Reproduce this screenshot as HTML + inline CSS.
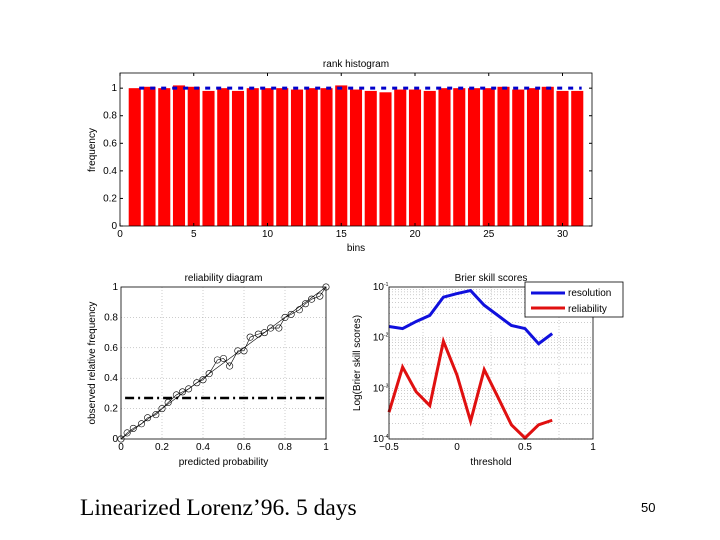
<!DOCTYPE html>
<html><head><meta charset="utf-8"><style>
body{margin:0;background:#fff;width:720px;height:540px;overflow:hidden}
svg{display:block}
text{font-family:"Liberation Sans",sans-serif;fill:#000}
</style></head><body>
<svg id="s" width="720" height="540">
<text x="80" y="515" style="font-family:'Liberation Serif',serif" font-size="23.5">Linearized Lorenz’96. 5 days</text>
<text x="641" y="512" font-size="13">50</text>
</svg>
<script>
const histBins=[1,2,3,4,5,6,7,8,9,10,11,12,13,14,15,16,17,18,19,20,21,22,23,24,25,26,27,28,29,30,31];
const histFreq=[1.0,1.01,1.0,1.02,1.01,0.98,1.0,0.98,1.0,1.0,1.0,0.99,1.0,1.0,1.02,0.99,0.98,0.97,0.99,0.99,0.98,1.0,1.0,1.0,1.0,1.01,0.99,1.0,1.01,0.98,0.98];
const histXTicks=[0,5,10,15,20,25,30];
const histYTicks=[0,0.2,0.4,0.6,0.8,1];
const relPred=[0,0.03,0.06,0.1,0.13,0.17,0.2,0.23,0.27,0.3,0.33,0.37,0.4,0.43,0.47,0.5,0.53,0.57,0.6,0.63,0.67,0.7,0.73,0.77,0.8,0.83,0.87,0.9,0.93,0.97,1];
const relObs=[0,0.04,0.07,0.1,0.14,0.16,0.2,0.24,0.29,0.31,0.33,0.37,0.39,0.43,0.52,0.53,0.48,0.58,0.58,0.67,0.69,0.7,0.73,0.73,0.8,0.82,0.85,0.89,0.92,0.94,1];
const climFreq=0.27;
const relTicks=[0,0.2,0.4,0.6,0.8,1];
const bssThresh=[-0.5,-0.4,-0.3,-0.2,-0.1,0,0.1,0.2,0.3,0.4,0.5,0.6,0.7];
const bssResLog=[-1.78,-1.82,-1.68,-1.56,-1.20,-1.13,-1.07,-1.36,-1.56,-1.76,-1.82,-2.12,-1.92];
const bssRelLog=[-3.47,-2.58,-3.07,-3.34,-2.07,-2.74,-3.65,-2.63,-3.17,-3.72,-3.98,-3.72,-3.63];
const bssXTicks=[-0.5,0,0.5,1];
const bssYDecades=[-4,-3,-2,-1];

const S=document.getElementById('s');const NS='http://www.w3.org/2000/svg';
function mk(t,a,name,p){const e=document.createElementNS(NS,t);for(const k in a)e.setAttribute(k,a[k]);


(p||S).appendChild(e);return e;}
function txt(x,y,s,name,opt){const e=mk('text',Object.assign({x:x,y:y,'font-size':10},opt||{}),name);e.textContent=s;return e;}
function lin(d0,d1,r0,r1){return v=>r0+(v-d0)/(d1-d0)*(r1-r0);}

// Histogram
{const L=120,R=592,T=73,B=226;const x=lin(0,32,L,R),y=lin(0,1.11,B,T);
histBins.forEach((b,i)=>{mk('rect',{x:x(b-0.41),y:y(histFreq[i]),width:x(0.82)-x(0),height:B-y(histFreq[i]),fill:'#ff0000'},'hist-bar');});
mk('line',{x1:x(1.3),x2:x(31.3),y1:y(1),y2:y(1),stroke:'#0000cc','stroke-width':3,'stroke-dasharray':'5,6'},'hist-uniform-line');
mk('rect',{x:L,y:T,width:R-L,height:B-T,fill:'none',stroke:'#000','stroke-width':0.8},'hist-axes-box');
histXTicks.forEach(t=>{mk('line',{x1:x(t),x2:x(t),y1:B,y2:B-3,stroke:'#000'},'hist-x-tick');mk('line',{x1:x(t),x2:x(t),y1:T,y2:T+3,stroke:'#000'},'hist-x-tick');txt(x(t),B+11,String(t),'hist-x-tick-label',{'text-anchor':'middle'});});
histYTicks.forEach(t=>{mk('line',{x1:L,x2:L+3,y1:y(t),y2:y(t),stroke:'#000'},'hist-y-tick');mk('line',{x1:R,x2:R-3,y1:y(t),y2:y(t),stroke:'#000'},'hist-y-tick');txt(L-3,y(t)+3,String(t),'hist-y-tick-label',{'text-anchor':'end'});});
txt((L+R)/2,67,'rank histogram','hist-title',{'text-anchor':'middle'});
txt((L+R)/2,251,'bins','hist-x-title',{'text-anchor':'middle'});
txt(95,150,'frequency','hist-y-title',{'text-anchor':'middle',transform:'rotate(-90 95 150)'});}

// Reliability
{const L=121,R=326,T=287,B=439;const x=lin(0,1,L,R),y=lin(0,1,B,T);
relTicks.forEach(t=>{if(t>0&&t<1){mk('line',{x1:x(t),x2:x(t),y1:T,y2:B,stroke:'#999','stroke-width':0.5,'stroke-dasharray':'1,2'},'rel-grid');mk('line',{x1:L,x2:R,y1:y(t),y2:y(t),stroke:'#999','stroke-width':0.5,'stroke-dasharray':'1,2'},'rel-grid');}});
mk('line',{x1:x(0.02),x2:x(1),y1:y(climFreq),y2:y(climFreq),stroke:'#000','stroke-width':2.5,'stroke-dasharray':'9,4,2,4'},'rel-climatology-line');
mk('line',{x1:x(0),y1:y(0),x2:x(1),y2:y(1),stroke:'#000','stroke-width':0.6},'rel-perfect-line');
mk('polyline',{points:relPred.map((p,i)=>x(p)+','+y(relObs[i])).join(' '),fill:'none',stroke:'#000','stroke-width':0.6},'rel-curve');
relPred.forEach((p,i)=>mk('circle',{cx:x(p),cy:y(relObs[i]),r:3.2,fill:'none',stroke:'#000','stroke-width':0.6},'rel-point'));
mk('rect',{x:L,y:T,width:R-L,height:B-T,fill:'none',stroke:'#000','stroke-width':0.8},'rel-axes-box');
relTicks.forEach(t=>{txt(x(t),B+11,String(t),'rel-x-tick-label',{'text-anchor':'middle'});txt(L-3,y(t)+3,String(t),'rel-y-tick-label',{'text-anchor':'end'});});
txt((L+R)/2,281,'reliability diagram','rel-title',{'text-anchor':'middle'});
txt((L+R)/2,465,'predicted probability','rel-x-title',{'text-anchor':'middle'});
txt(95,363,'observed relative frequency','rel-y-title',{'text-anchor':'middle',transform:'rotate(-90 95 363)'});}

// Brier
{const L=389,R=593,T=287,B=439;const x=lin(-0.5,1,L,R),y=lin(-4,-1,B,T);
[-0.25,0.25,0.5,0.75].forEach(t=>mk('line',{x1:x(t),x2:x(t),y1:T,y2:B,stroke:'#999','stroke-width':0.5,'stroke-dasharray':'1,2'},'bss-grid'));
bssYDecades.forEach(d=>{for(let m=1;m<10;m++){const v=d+Math.log10(m);if(v<-1)mk('line',{x1:L,x2:R,y1:y(v),y2:y(v),stroke:'#999','stroke-width':0.5,'stroke-dasharray':'1,2'},'bss-grid');}});
mk('polyline',{points:bssThresh.map((t,i)=>x(t)+','+y(bssResLog[i])).join(' '),fill:'none',stroke:'#1010dd','stroke-width':3},'bss-resolution-line');
mk('polyline',{points:bssThresh.map((t,i)=>x(t)+','+y(bssRelLog[i])).join(' '),fill:'none',stroke:'#e01010','stroke-width':3},'bss-reliability-line');
mk('rect',{x:L,y:T,width:R-L,height:B-T,fill:'none',stroke:'#000','stroke-width':0.8},'bss-axes-box');
bssXTicks.forEach(t=>txt(x(t),B+11,String(t).replace('-','−'),'bss-x-tick-label',{'text-anchor':'middle'}));
bssYDecades.forEach(d=>{txt(L-5,y(d)+3,'10','bss-y-tick-label',{'text-anchor':'end'});txt(L-5,y(d)-1,String(d),'bss-y-tick-exp',{'font-size':5});});
txt((L+R)/2,281,'Brier skill scores','bss-title',{'text-anchor':'middle'});
txt((L+R)/2,465,'threshold','bss-x-title',{'text-anchor':'middle'});
txt(360,363,'Log(Brier skill scores)','bss-y-title',{'text-anchor':'middle',transform:'rotate(-90 360 363)'});
mk('rect',{x:525,y:282,width:98,height:35,fill:'#fff',stroke:'#000','stroke-width':0.8},'bss-legend');
mk('line',{x1:531,x2:565,y1:293,y2:293,stroke:'#1010dd','stroke-width':3},'legend-resolution-swatch');
txt(568,296,'resolution','legend-resolution-label');
mk('line',{x1:531,x2:565,y1:308,y2:308,stroke:'#e01010','stroke-width':3},'legend-reliability-swatch');
txt(568,312,'reliability','legend-reliability-label');}
</script>
</body></html>
